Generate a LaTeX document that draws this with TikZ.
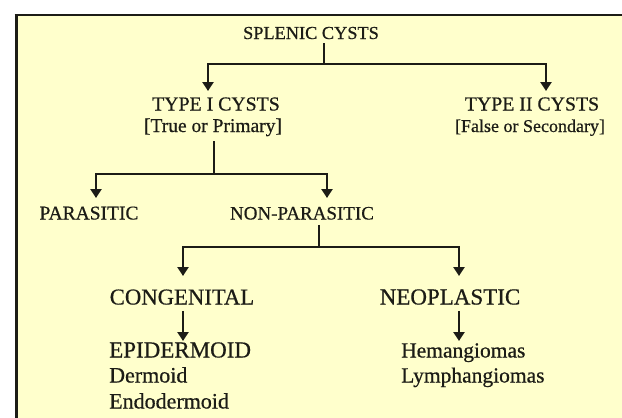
\documentclass[tikz,border=0pt]{standalone}
\usepackage{fontspec}
\setmainfont[FakeBold=0.6]{Liberation Serif}
\usetikzlibrary{arrows.meta}
\definecolor{boxfill}{RGB}{255,255,204}
\definecolor{ink}{RGB}{28,28,22}
\begin{document}
\begin{tikzpicture}[x=1pt,y=-1pt,
  lbl/.style={inner sep=0pt,text=ink,anchor=base},
  lblw/.style={inner sep=0pt,text=ink,anchor=base west},
  fs/.style={font=\fontsize{#1}{#1}\selectfont},
  conn/.style={draw=ink,line width=2.5pt},
  arr/.style={conn,-{Triangle[width=11pt,length=9pt]}}]
\useasboundingbox (0,0) rectangle (622,418);
\clip (0,0) rectangle (622,418);
\fill[white] (0,0) rectangle (622,418);
\fill[boxfill] (16,15) rectangle (640,440);
\draw[ink,line width=3pt] (16,440) -- (16,15);
\draw[ink,line width=2.6pt] (14.5,15) -- (640,15);
% nodes (baseline positions)
\node[lbl,fs=18.3] (splenic) at (311,39) {SPLENIC CYSTS};
\node[lbl,fs=19.8] (type1) at (216,110.5) {TYPE I CYSTS};
\node[lbl,fs=19.5] (true) at (213,132) {[True or Primary]};
\node[lbl,fs=19.8] (type2) at (532,110.5) {TYPE II CYSTS};
\node[lbl,fs=18] (false) at (530,132) {[False or Secondary]};
\node[lbl,fs=19.5] (para) at (89,219.5) {PARASITIC};
\node[lbl,fs=19] (nonpara) at (302,219.5) {NON-PARASITIC};
\node[lbl,fs=22.7] (cong) at (182,304.5) {CONGENITAL};
\node[lbl,fs=23] (neo) at (450,304.5) {NEOPLASTIC};
\node[lblw,fs=23] (epi) at (109,357.5) {EPIDERMOID};
\node[lblw,fs=22] (derm) at (109,382.5) {Dermoid};
\node[lblw,fs=22] (endo) at (109,408.5) {Endodermoid};
\node[lblw,fs=21.5] (hem) at (401,357.5) {Hemangiomas};
\node[lblw,fs=21.5] (lymph) at (401,382.5) {Lymphangiomas};
% junctions and arrow tips
\coordinate (j1) at (324,64);
\coordinate (t1a) at (208,91);
\coordinate (t1b) at (546,91);
\coordinate (j2) at (214,174);
\coordinate (t2a) at (96,198);
\coordinate (t2b) at (327,198);
\coordinate (j3) at (319,247);
\coordinate (t3a) at (183,276);
\coordinate (t3b) at (459,276);
\coordinate (t4a) at (183,341);
\coordinate (t4b) at (459,341);
% connectors
\draw[conn] (splenic.south -| j1) ++(0,4) -- (j1);
\draw[arr] (j1) -| (t1a);
\draw[arr] (j1) -| (t1b);
\draw[conn] (true.south -| j2) ++(0,5) -- (j2);
\draw[arr] (j2) -| (t2a);
\draw[arr] (j2) -| (t2b);
\draw[conn] (nonpara.south -| j3) ++(0,5) -- (j3);
\draw[arr] (j3) -| (t3a);
\draw[arr] (j3) -| (t3b);
\draw[arr] (cong.south -| t4a) ++(0,6) -- (t4a);
\draw[arr] (neo.south -| t4b) ++(0,6) -- (t4b);
\end{tikzpicture}
\end{document}
